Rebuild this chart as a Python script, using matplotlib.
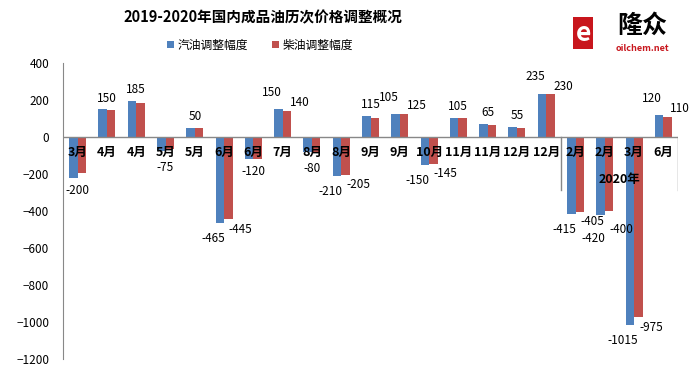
import matplotlib
matplotlib.use('Agg')
import matplotlib.pyplot as plt
import numpy as np

plt.rcParams['font.family'] = ['Noto Sans CJK SC', 'DejaVu Sans']

# 调价月份（2019年17次，2020年4次）
months = ['3月', '4月', '4月', '5月', '5月', '6月', '6月', '7月', '8月', '8月', '9月',
          '9月', '10月', '11月', '11月', '12月', '12月', '2月', '2月', '3月', '6月']
gasoline = [-220, 150, 195, -75, 50, -465, -120, 150, -80, -210, 115,
            125, -150, 105, 70, 55, 235, -415, -420, -1015, 120]
diesel = [-195, 145, 185, -65, 50, -445, -120, 140, -80, -205, 105,
          125, -145, 105, 65, 50, 230, -405, -400, -975, 110]
# 图上显示的数据标签
gas_labels = ['-200', '150', '185', '-75', '50', '-465', '-120', '150', '-80', '-210', '115',
              '105', '-150', '105', '65', '55', '235', '-415', '-420', '-1015', '120']
diesel_labels = ['', '', '', '', '', '-445', '', '140', '', '-205', '',
                 '125', '-145', '', '', '', '230', '-405', '-400', '-975', '110']

blue = '#4F81BD'
red = '#C0504D'

fig = plt.figure(figsize=(7, 3.68), dpi=100)
ax = fig.add_axes([0.09, 0.0245, 0.8786, 0.8043])

x = np.arange(len(months))
w = 0.29
ax.bar(x - w / 2, gasoline, w, color=blue, label='汽油调整幅度', zorder=2)
ax.bar(x + w / 2, diesel, w, color=red, label='柴油调整幅度', zorder=2)

ax.set_xlim(-0.5, len(months) - 0.5)
ax.set_ylim(-1200, 400)
ax.set_yticks(range(-1200, 401, 200))
ax.tick_params(axis='y', length=0, pad=10, labelsize=8.5)
ax.set_xticks([])
for s in ['top', 'right', 'bottom']:
    ax.spines[s].set_visible(False)
ax.spines['left'].set_color('#888888')
ax.axhline(0, color='#888888', lw=1, zorder=3)

# 月份标签（压在零线下方）
for i, m in enumerate(months):
    ax.annotate(m, (i, 0), xytext=(0, -11), textcoords='offset points',
                ha='center', va='center', fontsize=9, fontweight='bold', zorder=5)

# 数据标签
for i in range(len(months)):
    g, d = gasoline[i], diesel[i]
    if diesel_labels[i] == '':
        v = min(g, d) if g < 0 else max(g, d)
        off = 8 if v > 0 else -9
        if -100 < v < 0:
            off = -12
        ax.annotate(gas_labels[i], (i, v), xytext=(0, off), textcoords='offset points',
                    ha='center', va='center', fontsize=8.5, zorder=5)
    else:
        offg = 12 if g > 0 else -11
        offd = 6 if d > 0 else -7
        if i == 18:
            offg, offd = -17, -13
        ax.annotate(gas_labels[i], (i - w / 2, g), xytext=(-5, offg), textcoords='offset points',
                    ha='center', va='center', fontsize=8.5, zorder=5)
        ax.annotate(diesel_labels[i], (i + w / 2, d), xytext=(9, offd), textcoords='offset points',
                    ha='center', va='center', fontsize=8.5, zorder=5)

# 2020年分组
for xs in [16.5, 20.5]:
    ax.plot([xs, xs], [0, -285], color='#888888', lw=1, zorder=3)
ax.text(18.5, -232, '2020年', ha='center', va='center', fontsize=9, fontweight='bold', zorder=5)

fig.text(0.376, 0.953, '2019-2020年国内成品油历次价格调整概况', ha='center', va='center',
         fontsize=10.5, fontweight='bold')
ax.legend(loc='center', bbox_to_anchor=(0.32, 1.06), ncol=2, frameon=False, fontsize=8.5,
          handlelength=0.6, handleheight=0.6, columnspacing=2.0, handletextpad=0.3)

# 隆众 logo
fig.text(0.833, 0.91, 'e', ha='center', va='center', fontsize=19, fontweight='bold',
         color='white', bbox=dict(boxstyle='square,pad=0.1', fc='#C8161D', ec='none'))
fig.text(0.918, 0.93, '隆众', ha='center', va='center', fontsize=18, fontweight='bold')
fig.text(0.918, 0.868, 'oilchem.net', ha='center', va='center', fontsize=6.5, fontweight='bold',
         color='#C8161D')

fig.savefig('out.png', dpi=100)
